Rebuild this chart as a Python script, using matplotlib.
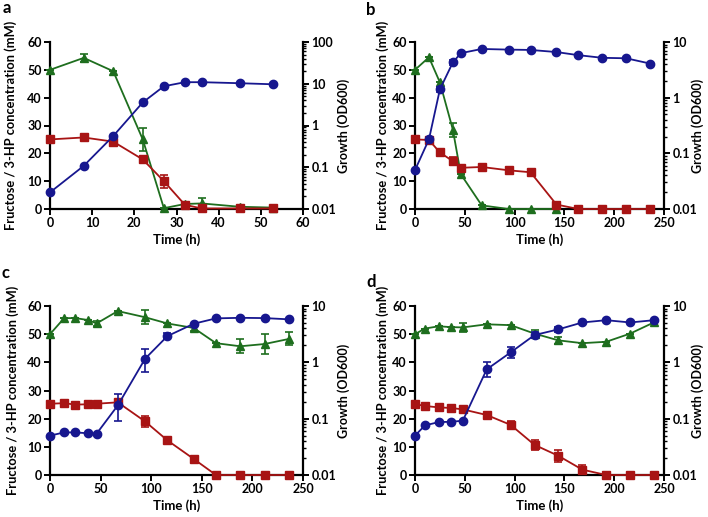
import matplotlib
matplotlib.use("Agg")
import matplotlib.pyplot as plt
import numpy as np
from matplotlib.ticker import LogLocator, NullFormatter

plt.rcParams['font.family'] = ['Lato', 'DejaVu Sans']
plt.rcParams['font.weight'] = 'bold'

BLUE = '#17178f'
GREEN = '#1e6e1e'
RED = '#a81414'

# ---------------- Panel a ----------------
a_time = [0, 8, 15, 22, 27, 32, 36, 45, 53]
a_od = [0.025, 0.108, 0.56, 3.57, 8.7, 10.9, 10.9, 10.3, 9.7]
a_od_err = [0, 0, 0, 0, 0, 0, 0, 0, 0]
a_fru = [50, 54.3, 49.5, 25, 0.3, 1.8, 2.0, 0.8, 0.5]
a_fru_err = [0, 1.5, 0, 4, 0, 0.5, 1.8, 0, 0]
a_hp = [25, 25.7, 24.2, 17.8, 10, 1.5, 0.2, 0.2, 0.2]
a_hp_err = [0, 0, 0, 1.2, 2.3, 0.5, 0, 0, 0]

# ---------------- Panel b ----------------
b_time = [0, 14, 25, 38, 46, 67, 94, 116, 142, 164, 188, 212, 236]
b_od = [0.050, 0.178, 1.41, 4.3, 6.3, 7.5, 7.3, 7.2, 6.6, 5.8, 5.2, 5.1, 4.1]
b_od_err = [0, 0, 0.15, 0.4, 0, 0, 0, 0, 0, 0, 0, 0, 0]
b_fru_time = [0, 14, 25, 38, 46, 67, 94, 116, 142]
b_fru = [50, 54.5, 45.5, 28.5, 12.5, 1.3, 0, 0, 0]
b_fru_err = [0, 0, 0, 2.5, 0, 0, 0, 0, 0]
b_hp = [25, 24.8, 20.3, 17.2, 14.8, 15.1, 13.9, 13.2, 1.6, 0, 0, 0, 0]
b_hp_err = [0, 0, 0, 1.5, 0, 0, 0, 0, 0, 0, 0, 0, 0]

# ---------------- Panel c ----------------
c_time = [0, 14, 25, 38, 46, 67, 94, 116, 142, 164, 188, 212, 236]
c_od = [0.050, 0.057, 0.057, 0.055, 0.054, 0.172, 1.16, 2.92, 4.84, 6.03, 6.17, 6.1, 5.8]
c_od_err_lo = [0, 0, 0, 0, 0, 0.08, 0.5, 0.3, 0, 0, 0, 0, 0]
c_od_err_hi = [0, 0, 0, 0, 0, 0.1, 0.6, 0.4, 0, 0, 0, 0, 0]
c_fru = [50, 55.7, 55.7, 55, 53.8, 58.2, 56, 53.8, 52.2, 46.8, 45.7, 46.5, 48.3]
c_fru_err = [0, 0, 0, 0, 1, 0, 2.5, 0, 1, 0, 2.5, 3.7, 2.3]
c_hp = [25.3, 25.5, 25, 25.1, 25.3, 25.8, 19, 12.3, 5.7, 0, 0, 0, 0]
c_hp_err = [0, 0, 0, 0, 0, 0, 2, 1, 0.7, 0, 0, 0, 0]

# ---------------- Panel d ----------------
d_time = [0, 10, 24, 36, 48, 72, 96, 120, 144, 168, 192, 216, 240]
d_od = [0.050, 0.076, 0.087, 0.088, 0.092, 0.75, 1.5, 3.05, 3.85, 5.1, 5.6, 5.1, 5.6]
d_od_err_lo = [0, 0, 0, 0, 0, 0.2, 0.3, 0.3, 0.4, 0, 0, 0, 0]
d_od_err_hi = [0, 0, 0, 0, 0, 0.25, 0.35, 0.35, 0.45, 0, 0, 0, 0]
d_fru = [50, 52, 52.8, 52.5, 52.4, 53.5, 53.2, 50.2, 47.8, 46.8, 47.3, 50.2, 54.2]
d_fru_err = [0, 0, 0, 0, 1.5, 0, 0, 1.3, 1.2, 0, 0, 0, 0]
d_hp = [25.2, 24.5, 24, 23.8, 23.3, 21.3, 17.8, 10.7, 6.8, 1.9, 0, 0, 0]
d_hp_err = [0, 0, 0, 0, 0, 0, 1.2, 1.8, 2.2, 1.5, 0, 0, 0]

fig = plt.figure(figsize=(7.08, 5.17), dpi=100)

W, H = 708.0, 517.0
def box(l, r, t, b):
    return [l / W, (H - b) / H, (r - l) / W, (b - t) / H]

panels = [
    dict(label='a', pos=box(50, 303, 42, 209), lab=(3, 8), xlim=60, xticks=[0, 10, 20, 30, 40, 50, 60],
         t=a_time, od=a_od, oderr=(a_od_err, a_od_err), ft=a_time, fru=a_fru, fe=a_fru_err,
         hp=a_hp, he=a_hp_err, ytop=100, lx=17, rx=337),
    dict(label='b', pos=box(415, 664, 42, 209), lab=(366, 10), xlim=250, xticks=[0, 50, 100, 150, 200, 250],
         t=b_time, od=b_od, oderr=(b_od_err, b_od_err), ft=b_fru_time, fru=b_fru, fe=b_fru_err,
         hp=b_hp, he=b_hp_err, ytop=10, lx=389, rx=691),
    dict(label='c', pos=box(50, 303, 306, 475), lab=(2, 273), xlim=250, xticks=[0, 50, 100, 150, 200, 250],
         t=c_time, od=c_od, oderr=(c_od_err_lo, c_od_err_hi), ft=c_time, fru=c_fru, fe=c_fru_err,
         hp=c_hp, he=c_hp_err, ytop=10, lx=19, rx=337),
    dict(label='d', pos=box(415, 664, 306, 475), lab=(366, 282), xlim=250, xticks=[0, 50, 100, 150, 200, 250],
         t=d_time, od=d_od, oderr=(d_od_err_lo, d_od_err_hi), ft=d_time, fru=d_fru, fe=d_fru_err,
         hp=d_hp, he=d_hp_err, ytop=10, lx=389, rx=691),
]

FS = 9
for p in panels:
    l = p['pos'][0] * W
    w = p['pos'][2] * W
    ax = fig.add_axes(p['pos'])
    ax.set_xlim(0, p['xlim'])
    ax.set_ylim(0, 60)
    ax.set_xticks(p['xticks'])
    ax.set_yticks([0, 10, 20, 30, 40, 50, 60])
    for s in ['top', 'right']:
        ax.spines[s].set_visible(False)
    for s in ['left', 'bottom']:
        ax.spines[s].set_linewidth(1.6)
    ax.tick_params(direction='out', length=4, width=1.4, labelsize=FS, pad=2)
    for lbl in ax.get_xticklabels() + ax.get_yticklabels():
        lbl.set_fontweight('bold')
    ax.set_xlabel('Time (h)', fontsize=FS + 0.5, fontweight='bold', labelpad=3)
    ax.set_ylabel('Fructose / 3-HP concentration (mM)', fontsize=FS + 0.3, fontweight='bold')
    ax.yaxis.set_label_coords((p['lx'] - l) / w, 0.5)

    ax.errorbar(p['ft'], p['fru'], yerr=p['fe'], color=GREEN, marker='^', markersize=6,
                lw=1.3, capsize=3, elinewidth=1.2, capthick=1.2, clip_on=False, zorder=3)
    ax.errorbar(p['t'], p['hp'], yerr=p['he'], color=RED, marker='s', markersize=6,
                lw=1.3, capsize=3, elinewidth=1.2, capthick=1.2, clip_on=False, zorder=4)

    ax2 = ax.twinx()
    ax2.set_yscale('log')
    ax2.set_ylim(0.01, p['ytop'])
    ax2.set_xlim(0, p['xlim'])
    for s in ['top', 'left', 'bottom']:
        ax2.spines[s].set_visible(False)
    ax2.spines['right'].set_linewidth(1.6)
    ax2.yaxis.set_minor_locator(LogLocator(base=10, subs=np.arange(2, 10), numticks=20))
    ax2.yaxis.set_minor_formatter(NullFormatter())
    majors = [v for v in [0.01, 0.1, 1, 10, 100] if v <= p['ytop']]
    ax2.set_yticks(majors)
    ax2.set_yticklabels(['%g' % v for v in majors])
    ax2.tick_params(which='major', direction='out', length=4, width=1.4, labelsize=FS, pad=2)
    ax2.tick_params(which='minor', direction='out', length=2.2, width=1.0)
    for lbl in ax2.get_yticklabels():
        lbl.set_fontweight('bold')
    ax2.set_ylabel('Growth (OD600)', fontsize=FS, fontweight='bold')
    ax2.yaxis.set_label_coords((p['rx'] - l) / w, 0.5)
    ax2.errorbar(p['t'], p['od'], yerr=p['oderr'], color=BLUE, marker='o', markersize=6,
                 lw=1.3, capsize=3, elinewidth=1.2, capthick=1.2, clip_on=False, zorder=5)

    fig.text(p['lab'][0] / W, 1 - p['lab'][1] / H, p['label'], fontsize=12, fontweight='bold',
             va='center', ha='left')

fig.savefig('out.png', dpi=100)
